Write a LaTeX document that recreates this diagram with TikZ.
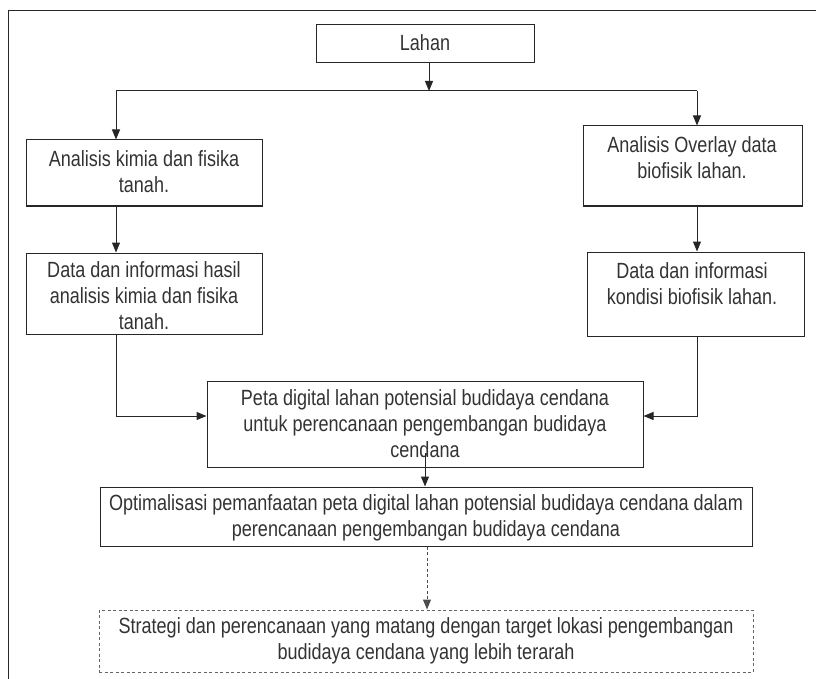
\documentclass[tikz,border=0pt]{standalone}
\usepackage{fontspec}
\setmainfont{Liberation Sans}[FakeStretch=0.82]
\usetikzlibrary{arrows.meta}
\begin{document}
\begin{tikzpicture}[x=1pt,y=-1pt,
  box/.style={draw=black!85,line width=1pt,inner sep=0pt},
  dbox/.style={draw=black!60,line width=1pt,inner sep=0pt,dash pattern=on 3pt off 2.5pt},
  txt/.style={align=center,font=\fontsize{22}{26}\selectfont,inner sep=0pt,text=black!80},
  arr/.style={-{Triangle[length=10pt,width=8pt]},line width=1pt,draw=black!85},
  darr/.style={-{Triangle[length=10pt,width=8pt]},line width=1pt,draw=black!70,dash pattern=on 3pt off 2.5pt},
  ln/.style={line width=1pt,draw=black!85}]
\useasboundingbox (0,0) rectangle (816,679);
\draw[ln] (816,11) -- (8,11) -- (8,679);

% boxes
\node[box,minimum width=218pt,minimum height=38pt] (lahan) at (425,44) {};
\node[box,minimum width=236pt,minimum height=66pt] (l1) at (144,173) {};
\node[box,minimum width=236pt,minimum height=81pt] (l2) at (144,293.5) {};
\node[box,minimum width=219pt,minimum height=80pt] (r1) at (692.5,166) {};
\node[box,minimum width=217pt,minimum height=84pt] (r2) at (695.5,294) {};
\node[box,minimum width=436pt,minimum height=86pt] (m) at (425,424) {};
\node[box,minimum width=652pt,minimum height=59pt] (o) at (426,516.5) {};
\node[dbox,minimum width=654pt,minimum height=62pt] (s) at (426,641) {};

% texts
\node[txt] (lahant) at (425,43) {Lahan};
\node[txt] (l1t) at (144,172) {Analisis kimia dan fisika\\tanah.};
\node[txt] (l2t) at (144,296) {Data dan informasi hasil\\analisis kimia dan fisika\\tanah.};
\node[txt] (r1t) at (692,158) {Analisis Overlay data\\biofisik lahan.};
\node[txt] (r2t) at (692,284) {Data dan informasi\\kondisi biofisik lahan.};
\node[txt] (mt) at (425,424) {Peta digital lahan potensial budidaya cendana\\untuk perencanaan pengembangan budidaya\\cendana};
\node[txt] (ot) at (426,518) {Optimalisasi pemanfaatan peta digital lahan potensial budidaya cendana dalam\\perencanaan pengembangan budidaya cendana};
\node[txt] (st) at (426,641) {Strategi dan perencanaan yang matang dengan target lokasi pengembangan\\budidaya cendana yang lebih terarah};

% junction coordinates
\coordinate (jc) at (429,91);
\coordinate (jl) at (116,91);
\coordinate (jr) at (697,91);
\coordinate (ml) at (116,416);
\coordinate (mr) at (697,416);
\coordinate (mo) at (425,453);
\coordinate (os) at (427,546);

% connectors
\draw[arr] (lahan.south -| jc) -- (jc);
\draw[ln] (jl) -- (jr);
\draw[arr] (jl) -- (jl |- l1.north);
\draw[arr] (jr) -- (jr |- r1.north);
\draw[arr] (jl |- l1.south) -- (jl |- l2.north);
\draw[arr] (jr |- r1.south) -- (jr |- r2.north);
\draw[arr] (jl |- l2.south) -- (ml) -- (ml -| m.west);
\draw[arr] (jr |- r2.south) -- (mr) -- (mr -| m.east);
\draw[arr] (mo) -- (mo |- o.north);
\draw[darr] (os |- o.south) -- (os |- s.north);
\end{tikzpicture}
\end{document}
